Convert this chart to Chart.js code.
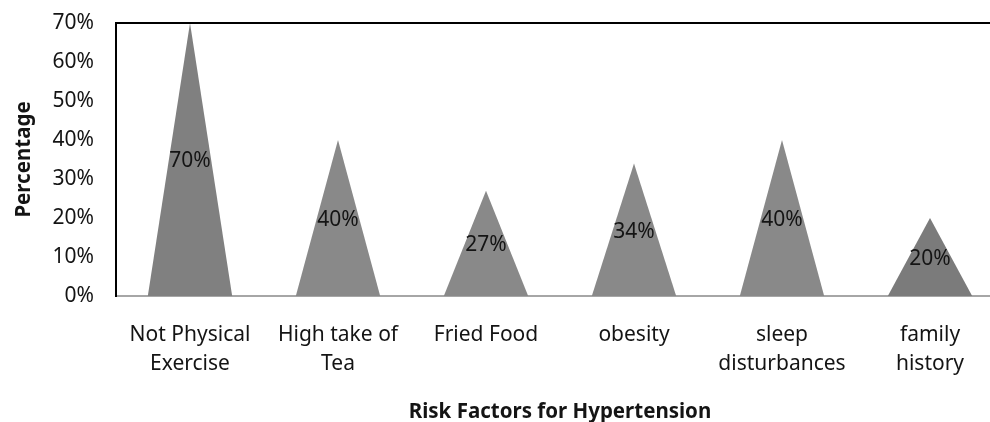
<!DOCTYPE html>
<html>
<head>
<meta charset="utf-8">
<script src="https://cdn.jsdelivr.net/npm/chart.js@4.4.1/dist/chart.umd.min.js"></script>
<style>
  html, body { margin: 0; padding: 0; background: #fff; overflow: hidden; }
  #wrap { width: 990px; height: 422px; overflow: hidden; position: relative; }
  canvas { display: block; }
</style>
</head>
<body>
<div id="wrap"><canvas id="c" width="1010" height="422"></canvas></div>
<script>
// ---- data ----
const categories = [
  ['Not Physical', 'Exercise'],
  ['High take of', 'Tea'],
  ['Fried Food'],
  ['obesity'],
  ['sleep', 'disturbances'],
  ['family', 'history']
];
const percentages = [70, 40, 27, 34, 40, 20];
const yTickLabels = ['0%', '10%', '20%', '30%', '40%', '50%', '60%', '70%'];
const triangleColors = ['#808080', '#898989', '#898989', '#898989', '#898989', '#7b7b7b'];

const FONT = "'Noto Sans', 'Open Sans', sans-serif";
const TEXT = '#141414';

const trianglePlugin = {
  id: 'triangles',
  afterDatasetsDraw(chart) {
    const ctx = chart.ctx;
    const area = chart.chartArea;
    const meta = chart.getDatasetMeta(0);
    ctx.save();
    meta.data.forEach((bar, i) => {
      const half = bar.width / 2;
      ctx.beginPath();
      ctx.moveTo(bar.x - half, bar.base);
      ctx.lineTo(bar.x, bar.y);
      ctx.lineTo(bar.x + half, bar.base);
      ctx.closePath();
      ctx.fillStyle = triangleColors[i];
      ctx.fill();
    });
    // value labels at mid-height of each triangle
    ctx.fillStyle = TEXT;
    ctx.font = "21px " + FONT;
    ctx.textAlign = 'center';
    ctx.textBaseline = 'middle';
    meta.data.forEach((bar, i) => {
      ctx.fillText(percentages[i] + '%', bar.x, (bar.y + bar.base) / 2 + 2);
    });
    // top frame line
    ctx.strokeStyle = '#000';
    ctx.lineWidth = 2;
    ctx.beginPath();
    ctx.moveTo(area.left - 1, area.top);
    ctx.lineTo(area.right, area.top);
    ctx.stroke();
    ctx.restore();
  }
};

new Chart(document.getElementById('c'), {
  type: 'bar',
  data: {
    labels: categories,
    datasets: [{
      data: percentages,
      backgroundColor: 'rgba(0,0,0,0)',
      borderWidth: 0,
      categoryPercentage: 1,
      barPercentage: 0.57
    }]
  },
  options: {
    responsive: false,
    animation: false,
    events: [],
    layout: { padding: { top: 23, right: 6, bottom: 0, left: 0 } },
    plugins: { legend: { display: false }, tooltip: { enabled: false } },
    scales: {
      x: {
        grid: { display: false, drawTicks: false },
        border: { display: true, color: '#a6a6a6', width: 2 },
        ticks: {
          color: TEXT,
          font: { family: FONT, size: 21, lineHeight: 1.35 },
          padding: 25,
          maxRotation: 0,
          autoSkip: false
        },
        title: {
          display: true,
          text: 'Risk Factors for Hypertension',
          color: TEXT,
          font: { family: FONT, size: 20.5, weight: 'bold', lineHeight: 1 },
          padding: { top: 0, bottom: 0 }
        },
        afterFit(s) { s.height = 126; s.paddingLeft = 0; s.paddingRight = 0; }
      },
      y: {
        min: 0,
        max: 70,
        grid: { display: false, drawTicks: false },
        border: { display: true, color: '#000', width: 2 },
        ticks: {
          stepSize: 10,
          color: TEXT,
          font: { family: FONT, size: 21 },
          padding: 22,
          callback: (v, i) => yTickLabels[i]
        },
        title: {
          display: true,
          text: 'Percentage',
          color: TEXT,
          font: { family: FONT, size: 20.5, weight: 'bold', lineHeight: 1.2 },
          padding: { top: 12, bottom: 0 }
        },
        afterFit(s) { s.width = 116; s.paddingTop = 0; s.paddingBottom = 0; }
      }
    }
  },
  plugins: [trianglePlugin]
});
</script>
</body>
</html>
